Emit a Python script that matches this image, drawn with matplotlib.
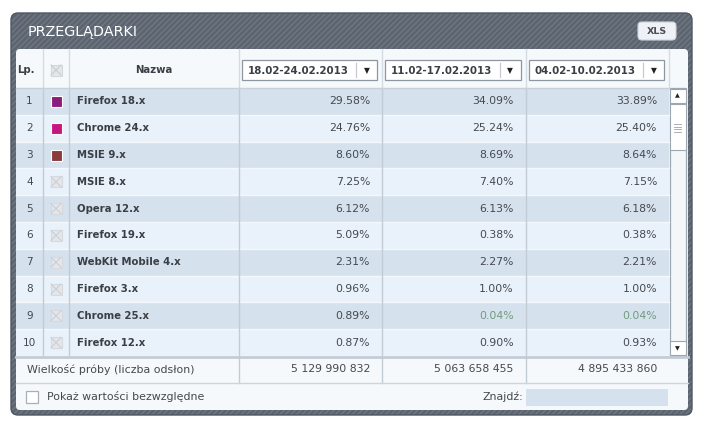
import matplotlib as mpl
mpl.use('Agg')
import matplotlib.pyplot as plt
from matplotlib.patches import Rectangle, FancyBboxPatch

title = 'PRZEGLĄDARKI'
periods = ['18.02-24.02.2013', '11.02-17.02.2013', '04.02-10.02.2013']
names = ['Firefox 18.x', 'Chrome 24.x', 'MSIE 9.x', 'MSIE 8.x', 'Opera 12.x',
         'Firefox 19.x', 'WebKit Mobile 4.x', 'Firefox 3.x', 'Chrome 25.x', 'Firefox 12.x']
week1 = [29.58, 24.76, 8.60, 7.25, 6.12, 5.09, 2.31, 0.96, 0.89, 0.87]
week2 = [34.09, 25.24, 8.69, 7.40, 6.13, 0.38, 2.27, 1.00, 0.04, 0.90]
week3 = [33.89, 25.40, 8.64, 7.15, 6.18, 0.38, 2.21, 1.00, 0.04, 0.93]
samples = ['5 129 990 832', '5 063 658 455', '4 895 433 860']
marker_colors = ['#8c1c7b', '#c8167f', '#8b3c3c', None, None, None, None, None, None, None]

plt.rcParams['font.family'] = 'DejaVu Sans'
plt.rcParams['hatch.linewidth'] = 1.0
plt.rcParams['hatch.color'] = '#6c7580'

fig = plt.figure(figsize=(7.03, 4.30), dpi=100)
ax = fig.add_axes([0, 0, 1, 1])
ax.set_xlim(0, 703)
ax.set_ylim(430, 0)
ax.axis('off')

txt = '#3a3f45'
num = '#44494f'
grid = '#c3cbd5'

# outer dark panel
ax.add_patch(FancyBboxPatch((11, 13), 681, 402, boxstyle='round,pad=0,rounding_size=7',
                            facecolor='#5b646f', edgecolor='#6e7782', hatch='//////', lw=0))
ax.add_patch(FancyBboxPatch((11, 13), 681, 402, boxstyle='round,pad=0,rounding_size=7',
                            facecolor='none', edgecolor='#4f5761', lw=1))
ax.text(28, 32, title, color='white', fontsize=10.4, va='center', ha='left')

# XLS button
ax.add_patch(FancyBboxPatch((638, 22), 38, 18, boxstyle='round,pad=0,rounding_size=4',
                            facecolor='#eef1f5', edgecolor='#cfd5dc', lw=0.8))
ax.text(657, 31, 'XLS', color='#4a4f55', fontsize=6.8, fontweight='bold', ha='center', va='center')

# inner white panel
ax.add_patch(FancyBboxPatch((16, 49), 672, 361, boxstyle='round,pad=0,rounding_size=4',
                            facecolor='#f6f9fc', edgecolor='none'))

cols = [16, 43, 69, 238.5, 382, 525.5, 669]
top, hdr = 49, 88
rh = 26.8
n = len(names)
body_end = hdr + rh * n

# header
for x in cols[1:]:
    ax.plot([x, x], [top, hdr], color='#d5dbe2', lw=1)
ax.text(26, 70, 'Lp.', fontsize=7.3, fontweight='bold', color=txt, ha='center', va='center')
ax.add_patch(Rectangle((50.5, 64.5), 11, 11, facecolor='#e4e7ea', edgecolor='#d3d7db', lw=0.8))
ax.plot([51, 61], [65, 75], color='#c9cdd2', lw=0.8)
ax.plot([51, 61], [75, 65], color='#c9cdd2', lw=0.8)
ax.text((cols[2] + cols[3]) / 2, 70, 'Nazwa', fontsize=7.3, fontweight='bold', color=txt,
        ha='center', va='center')
for i, p in enumerate(periods):
    x0 = cols[3 + i] + 3
    x1 = cols[4 + i] - 5
    ax.add_patch(Rectangle((x0, 60), x1 - x0, 20, facecolor='white', edgecolor='#8e969f', lw=0.9))
    ax.plot([x1 - 21, x1 - 21], [63, 77], color='#c5cad0', lw=0.9)
    ax.text(x0 + 6, 70.5, p, fontsize=7.4, fontweight='bold', color=txt, ha='left', va='center')
    ax.text(x1 - 10.5, 70.5, '▼', fontsize=5.5, color='#222222', ha='center', va='center')

# body rows
for i in range(n):
    y0 = hdr + i * rh
    bg = '#d6e1ee' if i % 2 == 0 else '#e9f2fb'
    ax.add_patch(Rectangle((16, y0), cols[6] - 16, rh, facecolor=bg, edgecolor='none'))
    ax.plot([16, cols[6]], [y0 + rh, y0 + rh], color='#f4f8fc', lw=1)
    yc = y0 + rh / 2
    ax.text(29.5, yc, str(i + 1), fontsize=7.6, color=num, ha='center', va='center')
    c = marker_colors[i]
    if c is not None:
        ax.add_patch(Rectangle((50.5, yc - 5.5), 11, 11, facecolor=c, edgecolor='white', lw=0.8))
    else:
        ax.add_patch(Rectangle((50.5, yc - 5.5), 11, 11, facecolor='#e3e6ea', edgecolor='#d6d9dd', lw=0.8))
        ax.plot([51, 61], [yc - 5, yc + 5], color='#ccd0d4', lw=0.8)
        ax.plot([51, 61], [yc + 5, yc - 5], color='#ccd0d4', lw=0.8)
    ax.text(77, yc, names[i], fontsize=7.3, fontweight='bold', color=txt, ha='left', va='center')
    for j, vals in enumerate([week1, week2, week3]):
        v = vals[i]
        col = '#6f9c7e' if v < 0.1 else num
        ax.text(cols[4 + j] - 12, yc, f'{v:.2f}%', fontsize=7.8, color=col, ha='right', va='center')

for x in cols[1:6]:
    ax.plot([x, x], [hdr, body_end], color=grid, lw=1)
ax.plot([16, cols[6]], [hdr, hdr], color='#c8d0da', lw=1)

# scrollbar
sx0, sx1 = 669.5, 685.5
ax.add_patch(Rectangle((sx0, hdr), sx1 - sx0, body_end - hdr, facecolor='#f4f7fa', edgecolor='#9ea6af', lw=0.9))
ax.add_patch(Rectangle((sx0, hdr + 1), sx1 - sx0, 14, facecolor='white', edgecolor='#9ea6af', lw=0.8))
ax.text((sx0 + sx1) / 2, hdr + 8, '▲', fontsize=4.5, color='#222222', ha='center', va='center')
ax.add_patch(Rectangle((sx0, 104), sx1 - sx0, 46, facecolor='white', edgecolor='#9ea6af', lw=0.8))
for gy in [124, 126.5, 129, 131.5]:
    ax.plot([674, 681], [gy, gy], color='#9aa2ab', lw=0.6)
ax.add_patch(Rectangle((sx0, body_end - 15), sx1 - sx0, 14, facecolor='white', edgecolor='#9ea6af', lw=0.8))
ax.text((sx0 + sx1) / 2, body_end - 7.5, '▼', fontsize=4.5, color='#222222', ha='center', va='center')

# sample size row
ax.plot([16, 688], [body_end + 0.5, body_end + 0.5], color='#c4ccd5', lw=2)
foot_y = (body_end + 383) / 2
ax.text(27, foot_y, 'Wielkość próby (liczba odsłon)', fontsize=7.9, color=num, ha='left', va='center')
for j, s in enumerate(samples):
    ax.text(cols[4 + j] - 12, foot_y, s, fontsize=7.8, color=num, ha='right', va='center')
for x in cols[3:6]:
    ax.plot([x, x], [body_end + 1.5, 383], color=grid, lw=1)
ax.plot([16, 688], [383, 383], color='#cdd4dc', lw=1)

# bottom controls
ax.add_patch(Rectangle((25.5, 390.5), 12, 12, facecolor='white', edgecolor='#a7afb8', lw=0.9))
ax.text(47, 396.5, 'Pokaż wartości bezwzględne', fontsize=7.9, color=num, ha='left', va='center')
ax.text(523, 397, 'Znajdź:', fontsize=7.9, color=num, ha='right', va='center')
ax.add_patch(Rectangle((526, 389), 142, 17, facecolor='#d6e1ee', edgecolor='none'))

plt.savefig('out.png', dpi=100)
